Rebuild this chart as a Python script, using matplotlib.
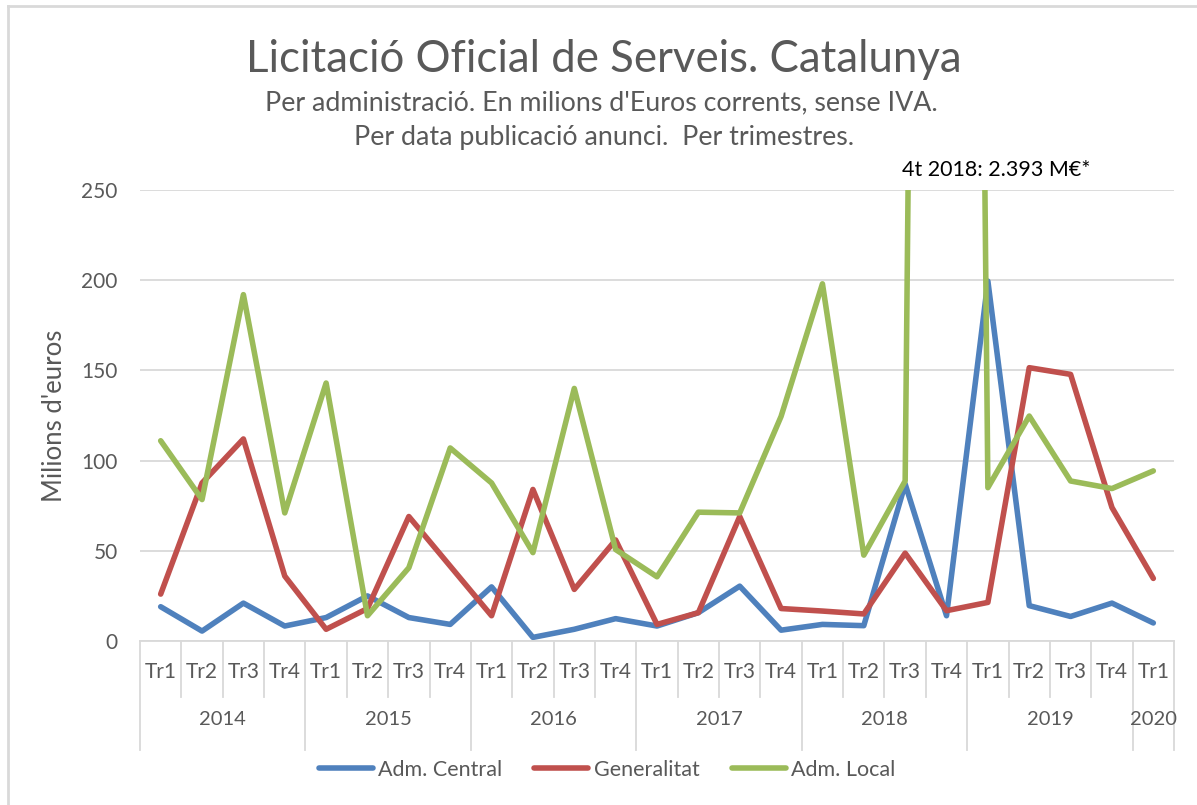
import numpy as np
import matplotlib
matplotlib.use('Agg')
import matplotlib.pyplot as plt
from matplotlib.transforms import blended_transform_factory

plt.rcParams['font.family'] = ['Lato', 'DejaVu Sans']

# data: quarters 2014 Tr1 .. 2020 Tr1 (milions d'euros)
years = ['2014', '2015', '2016', '2017', '2018', '2019', '2020']
quarters_per_year = [4, 4, 4, 4, 4, 4, 1]
quarter_labels = ['Tr1', 'Tr2', 'Tr3', 'Tr4']

adm_central = [19, 5.5, 21, 8.3, 13, 25, 13, 9.2, 30, 2, 6.5, 12.4,
               8.3, 15.7, 30.4, 6, 9.2, 8.5, 87, 14, 199.5, 19.6, 13.6, 21, 10]
generalitat = [26, 87.6, 112, 36, 6.5, 18, 69, 41.5, 14, 84, 28.6, 56,
               9.2, 15.7, 69, 18, 16.6, 15, 48.7, 16.8, 21.4, 151.5, 147.8, 74, 34.7]
adm_local = [111, 78.4, 192, 71, 143, 14, 40.6, 107, 87.6, 49, 140, 50.7,
             35.6, 71.4, 71, 124.5, 198, 47.6, 88.7, 2393, 85, 124.7, 88.7, 84.5, 94.3]

series_names = ['Adm. Central', 'Generalitat', 'Adm. Local']
colors = ['#4F81BD', '#C0504D', '#9BBB59']
note = '4t 2018: 2.393 M€*'

grey_text = '#595959'
grey_line = '#D9D9D9'

fig = plt.figure(figsize=(11.97, 8.05), dpi=100)
ax = fig.add_axes([140 / 1197, 1 - 641 / 805, 1034 / 1197, 451 / 805])

x = np.arange(len(adm_central))
for vals, c, name in zip([adm_central, generalitat, adm_local], colors, series_names):
    ax.plot(x, vals, color=c, lw=4.0, label=name, solid_capstyle='round',
            solid_joinstyle='round')

ax.set_xlim(-0.5, len(x) - 0.5)
ax.set_ylim(0, 250)
ax.set_yticks(np.arange(0, 251, 50))
ax.yaxis.grid(True, color=grey_line, lw=1.3)
ax.set_axisbelow(True)
ax.tick_params(axis='y', length=0, pad=16, labelsize=15, labelcolor=grey_text)
ax.set_xticks([])
for s in ['left', 'right', 'top']:
    ax.spines[s].set_visible(False)
ax.spines['bottom'].set_color(grey_line)
ax.spines['bottom'].set_linewidth(1.3)

ax.set_ylabel("Milions d'euros", fontsize=18.5, color=grey_text)
ax.yaxis.set_label_coords(-0.0706, 0.5)

# multi-level category axis
trans = blended_transform_factory(ax.transData, ax.transAxes)
i = 0
for yr, n in zip(years, quarters_per_year):
    ax.plot([i - 0.5, i - 0.5], [0, -0.242], transform=trans, color=grey_line,
            lw=1.3, clip_on=False)
    for q in range(n):
        ax.text(i + q, -0.069, quarter_labels[q], transform=trans, ha='center',
                va='center', fontsize=15, color=grey_text)
        if q > 0:
            ax.plot([i + q - 0.5, i + q - 0.5], [0, -0.124], transform=trans,
                    color=grey_line, lw=1.3, clip_on=False)
    ax.text(i + (n - 1) / 2, -0.175, yr, transform=trans, ha='center',
            va='center', fontsize=14.5, color=grey_text)
    i += n
ax.plot([i - 0.5, i - 0.5], [0, -0.242], transform=trans, color=grey_line,
        lw=1.3, clip_on=False)

ax.text(20.2, 261, note, ha='center', va='center', fontsize=15.5,
        color='black', clip_on=False)

fig.text(604 / 1197, 1 - 60 / 805, 'Licitació Oficial de Serveis. Catalunya',
         ha='center', va='center', fontsize=31.5, color=grey_text)
fig.text(601 / 1197, 1 - 103 / 805,
         "Per administració. En milions d'Euros corrents, sense IVA.",
         ha='center', va='center', fontsize=19.3, color=grey_text)
fig.text(604 / 1197, 1 - 137 / 805,
         'Per data publicació anunci.  Per trimestres.',
         ha='center', va='center', fontsize=19.3, color=grey_text)

fig.legend(loc='center', bbox_to_anchor=(607 / 1197, 1 - 770 / 805), ncol=3,
           frameon=False, fontsize=15.5, handlelength=2.5, handletextpad=0.25,
           columnspacing=1.5, labelcolor=grey_text)

# outer chart border
fig.add_artist(plt.Line2D([8 / 1197, 8 / 1197], [0, 1 - 6 / 805],
                          transform=fig.transFigure, color=grey_line, lw=2))
fig.add_artist(plt.Line2D([8 / 1197, 1], [1 - 6 / 805, 1 - 6 / 805],
                          transform=fig.transFigure, color=grey_line, lw=2))

fig.savefig('out.png', dpi=100)
